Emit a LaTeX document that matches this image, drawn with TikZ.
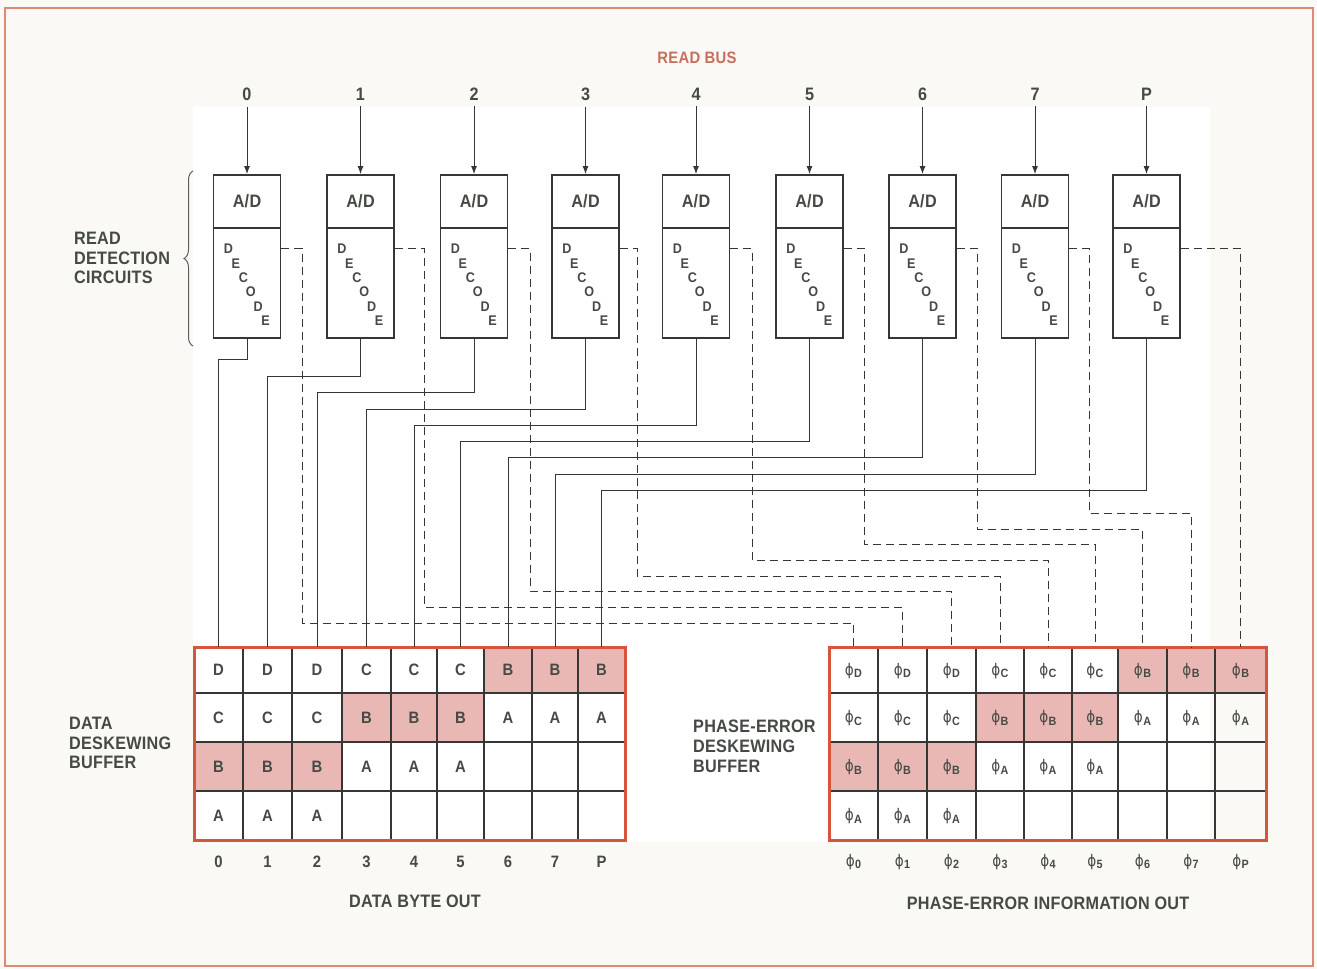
\documentclass[tikz,border=0pt]{standalone}
\usepackage{fontspec}
\newfontfamily\lab[FakeStretch=0.9, LetterSpace=1.5]{Liberation Sans}
\newfontfamily\phif[FakeStretch=0.85]{DejaVu Sans}
\usetikzlibrary{calc,decorations.pathreplacing,arrows.meta}
\definecolor{framec}{HTML}{DE8A72}
\definecolor{bufred}{HTML}{D5563C}
\definecolor{pinkc}{HTML}{EAB8B4}
\definecolor{txt}{HTML}{464A45}
\definecolor{wire}{HTML}{363636}
\definecolor{bgc}{HTML}{FAF9F6}
\definecolor{busred}{HTML}{C86E5C}
\newcommand\fBig{\fontsize{18}{19.8}\selectfont}
\newcommand\fMid{\fontsize{16.5}{16.5}\selectfont}
\newcommand\fDec{\fontsize{14}{14}\selectfont}
\newcommand\phs[1]{{\phif\mdseries\fontsize{16}{16}\selectfont ϕ}\kern0.3pt\raisebox{-2.5pt}{\fontsize{12}{12}\selectfont #1}}
\begin{document}
\begin{tikzpicture}[x=1pt,y=-1pt,
  every node/.style={font=\lab\bfseries\fBig, text=txt, inner sep=0pt},
  adbox/.style={draw=wire, line width=1.8pt, minimum width=67pt, minimum height=53pt},
  decbox/.style={draw=wire, line width=1.8pt, minimum width=67pt, minimum height=110pt},
  solidw/.style={draw=wire, line width=1pt},
  dashw/.style={draw=wire, line width=1pt, dash pattern=on 8pt off 5pt},
  busarrow/.style={draw=wire, line width=1pt, -{Latex[length=8pt,width=6pt]}, shorten <=6pt},
  cell/.style={font=\lab\bfseries\fMid},
  gridl/.style={draw=wire, line width=1.2pt},
  bufborder/.style={draw=bufred, line width=3pt},
  lbl/.style={anchor=west, align=left}
]
% background and frame
\fill[bgc] (0,0) rectangle (1317,969);
\fill[white] (193,107) rectangle (1210,842);
\draw[framec, line width=2pt] (5,8) rectangle (1313,966);

\node[text=busred, font=\lab\bfseries\fMid] (readbus) at (697,58) {READ BUS};

% read detection circuits
\foreach \x/\l [count=\i from 0] in {247/0, 360.5/1, 474/2, 585.5/3, 696/4, 809.5/5, 922.5/6, 1035/7, 1146.5/P} {
  \node (bl\i) at (\x,94) {\l};
  \node[adbox] (ad\i) at (\x,201.5) {A/D};
  \node[decbox] (dec\i) at (\x,283) {};
  \draw[busarrow] (bl\i) -- (ad\i);
  \foreach \ch [count=\k from 0] in {D,E,C,O,D,E} {
    \node[font=\lab\bfseries\fDec] (dl\i\k) at ($(\x,249)+(-18.5+7.4*\k,14.3*\k)$) {\ch};
  }
}

% brace and left label
\draw[wire!80, line width=1pt, decorate, decoration={brace, amplitude=9pt}] (193,346) -- (193,171);
\node[lbl] (rdc) at (74,258) {READ\\DETECTION\\CIRCUITS};

% ---------- data deskewing buffer ----------
\foreach \r/\cs in {0/{6,7,8}, 1/{3,4,5}, 2/{0,1,2}} {
  \foreach \c in \cs {
    \pgfmathsetmacro\xa{{194,243,292,342,391,437,484,532,578,625}[\c]}
    \pgfmathsetmacro\xb{{194,243,292,342,391,437,484,532,578,625}[\c+1]}
    \pgfmathsetmacro\ya{{647,693,742,791,840}[\r]}
    \pgfmathsetmacro\yb{{647,693,742,791,840}[\r+1]}
    \fill[pinkc] (\xa,\ya) rectangle (\xb,\yb);
  }
}
\foreach \x in {243,292,342,391,437,484,532,578} \draw[gridl] (\x,647) -- (\x,840);
\foreach \y in {693,742,791} \draw[gridl] (194,\y) -- (625,\y);
\draw[bufborder] (194,647) rectangle (625,840);

% ---------- phase-error deskewing buffer ----------
\foreach \r/\cs in {0/{6,7,8}, 1/{3,4,5}, 2/{0,1,2}} {
  \foreach \c in \cs {
    \pgfmathsetmacro\xa{{829,878,927,976,1024,1072,1118,1167,1215,1266}[\c]}
    \pgfmathsetmacro\xb{{829,878,927,976,1024,1072,1118,1167,1215,1266}[\c+1]}
    \pgfmathsetmacro\ya{{647,693,742,791,840}[\r]}
    \pgfmathsetmacro\yb{{647,693,742,791,840}[\r+1]}
    \fill[pinkc] (\xa,\ya) rectangle (\xb,\yb);
  }
}
\foreach \x in {878,927,976,1024,1072,1118,1167,1215} \draw[gridl] (\x,647) -- (\x,840);
\foreach \y in {693,742,791} \draw[gridl] (829,\y) -- (1266,\y);
\draw[bufborder] (829,647) rectangle (1266,840);

% cell contents and column labels
\foreach \x/\l/\a/\b/\c/\d [count=\i from 0] in
  {218.5/0/D/C/B/A, 267.5/1/D/C/B/A, 317/2/D/C/B/A,
   366.5/3/C/B/A/, 414/4/C/B/A/, 460.5/5/C/B/A/,
   508/6/B/A//, 555/7/B/A//, 601.5/P/B/A//} {
  \node[cell] (da\i) at (\x,670) {\a};
  \node[cell] (db\i) at (\x,717.5) {\b};
  \node[cell] (dc\i) at (\x,766.5) {\c};
  \node[cell] (dd\i) at (\x,815.5) {\d};
  \node[cell] (dn\i) at (\x,862) {\l};
  \coordinate (dt\i) at (\x,647);
}
\foreach \x/\l/\a/\b/\c/\d [count=\i from 0] in
  {853.5/0/D/C/B/A, 902.5/1/D/C/B/A, 951.5/2/D/C/B/A,
   1000/3/C/B/A/, 1048/4/C/B/A/, 1095/5/C/B/A/,
   1142.5/6/B/A//, 1191/7/B/A//, 1240.5/P/B/A//} {
  \node[cell] (pa\i) at (\x,671) {\phs{\a}};
  \node[cell] (pb\i) at (\x,718.5) {\phs{\b}};
  \node[cell] (pc\i) at (\x,767.5) {\ifx\c\empty\else\phs{\c}\fi};
  \node[cell] (pd\i) at (\x,816.5) {\ifx\d\empty\else\phs{\d}\fi};
  \node[cell] (pn\i) at (\x,862) {\phs{\l}};
  \coordinate (pt\i) at (\x,647);
}

\node[lbl] (ddb) at (69,743) {DATA\\DESKEWING\\BUFFER};
\node[lbl] (pdb) at (693,746) {PHASE-ERROR\\DESKEWING\\BUFFER};
\node (dbo) at (415,901) {DATA BYTE OUT};
\node (pio) at (1048,903) {PHASE-ERROR INFORMATION OUT};

% ---------- solid data wires ----------
\foreach \x/\yh [count=\i from 0] in {218.5/359, 267.5/376, 317/392, 366.5/409, 414/425, 460.5/441, 508/457, 555/474, 601.5/490} {
  \coordinate (sh\i) at (\x,\yh);
  \draw[solidw] (dec\i.south) |- (sh\i) -- (dt\i);
}

% ---------- dashed phase wires ----------
\foreach \xd/\yd [count=\i from 0] in {302/623, 424/607, 530/591, 637/576, 752/560, 864/544, 977/529, 1089/513} {
  \coordinate (dv\i) at (\xd,\yd);
  \draw[dashw] ($(dec\i.north east)+(0,21)$) -| (dv\i) -| (pt\i);
}
\draw[dashw] ($(dec8.north east)+(0,21)$) -| (pt8);
\end{tikzpicture}
\end{document}
